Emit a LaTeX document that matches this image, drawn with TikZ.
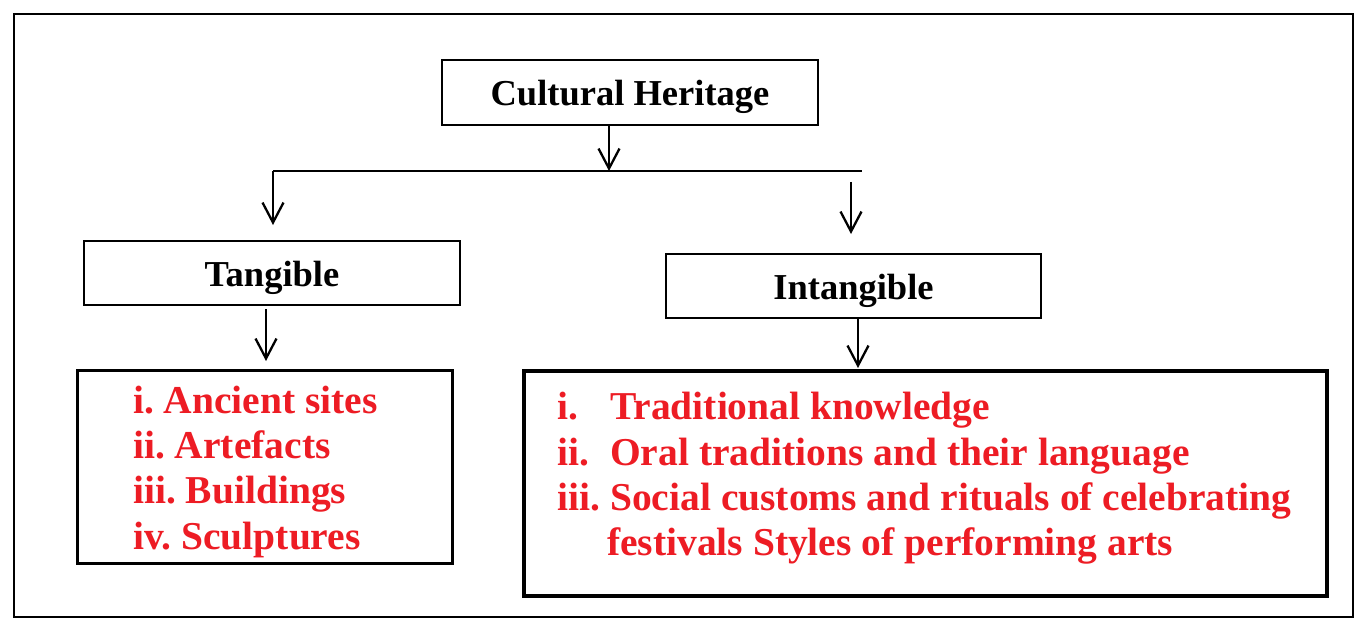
\documentclass[tikz,border=0pt]{standalone}
\usepackage{fontspec}
\setmainfont{Liberation Serif}
\usetikzlibrary{arrows.meta}
\definecolor{itemred}{RGB}{237,28,36}
\frenchspacing
\tikzset{
  box/.style={draw=black, line width=2.4pt, inner sep=0pt, text height=27pt, text depth=1pt, font=\fontsize{36.5}{40}\selectfont\bfseries},
  listbox/.style={draw=black, line width=3pt, inner sep=0pt},
  item/.style={anchor=base west, inner sep=0pt, text=itemred, font=\fontsize{39.5}{45}\selectfont\bfseries},
  arr/.style={line width=2.3pt, -{Straight Barb[length=20pt,width=21pt,line width=2.3pt]}},
  plain/.style={line width=2.5pt}
}
\begin{document}
\begin{tikzpicture}[x=1pt,y=-1pt]
\useasboundingbox (0,0) rectangle (1367,631);
\draw[line width=2pt] (14,14) rectangle (1353,617);

\node[box, minimum width=376pt, minimum height=65pt] (ch) at (630,92.5) {Cultural Heritage};
\node[box, minimum width=376pt, minimum height=64pt] (tan) at (272,273) {Tangible};
\node[box, minimum width=375pt, minimum height=64pt] (intan) at (853.5,286) {Intangible};
\node[listbox, minimum width=375pt, minimum height=193pt] (tlist) at (264.5,466.5) {};
\node[listbox, line width=3.6pt, minimum width=803pt, minimum height=225pt] (ilist) at (925.5,483.5) {};

% tangible items
\node[item] (t1) at (133,413) {i. Ancient sites};
\node[item] (t2) at (133,458) {ii. Artefacts};
\node[item] (t3) at (133,503) {iii. Buildings};
\node[item] (t4) at (133,549) {iv. Sculptures};

% intangible items
\node[item] (l1) at (557,419) {i.};
\node[item] (i1) at (610,419) {Traditional knowledge};
\node[item] (l2) at (557,465) {ii.};
\node[item] (i2) at (610,465) {Oral traditions and their language};
\node[item] (l3) at (557,510) {iii.};
\node[item] (i3) at (610,510) {Social customs and rituals of celebrating};
\node[item] (i4) at (607,555) {festivals Styles of performing arts};

% connectors
\coordinate (j) at (609,171);
\coordinate (hl) at (273,171);
\coordinate (hr) at (862,171);
\coordinate (ta) at (273,225);
\coordinate (rs) at (851,182);
\coordinate (re) at (851,234);
\coordinate (te) at (266,361);
\coordinate (ie) at (858,368);

\draw[arr] (ch.south -| j) -- (j);
\draw[plain] (hl) -- (hr);
\draw[arr] (hl) -- (ta);
\draw[arr] (rs) -- (re);
\draw[arr] (tan.south -| te) ++(0,3) -- (te);
\draw[arr] (intan.south -| ie) ++(0,-2) -- (ie);
\end{tikzpicture}
\end{document}
